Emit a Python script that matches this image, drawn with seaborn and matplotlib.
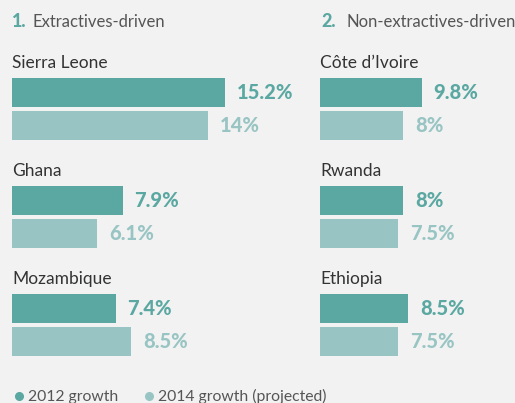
import matplotlib
matplotlib.use("Agg")
import matplotlib.pyplot as plt
from matplotlib.lines import Line2D
import seaborn as sns
import pandas as pd

# data
countries_left = ["Sierra Leone", "Ghana", "Mozambique"]
growth_2012_left = [15.2, 7.9, 7.4]
growth_2014_left = [14, 6.1, 8.5]

countries_right = ["Côte d’Ivoire", "Rwanda", "Ethiopia"]
growth_2012_right = [9.8, 8, 8.5]
growth_2014_right = [8, 7.5, 7.5]

years = ["2012 growth", "2014 growth (projected)"]
titles = ["Extractives-driven", "Non-extractives-driven"]

BG = "#f2f2f2"
DARK = "#5ba8a2"
LIGHT = "#98c5c3"
TXT = "#333333"

sns.set_theme(style="white")
plt.rcParams["font.family"] = ["Lato", "DejaVu Sans"]

W, H = 515, 403
fig = plt.figure(figsize=(W / 100, H / 100), dpi=100, facecolor=BG)


def make_df(countries, g12, g14):
    return pd.DataFrame({
        "country": countries * 2,
        "value": g12 + g14,
        "year": [years[0]] * len(countries) + [years[1]] * len(countries),
    })


def panel(ax, df, countries, xmax):
    sns.barplot(data=df, y="country", x="value", hue="year", hue_order=years,
                order=countries, orient="h", width=0.61, gap=0.115,
                palette=[DARK, LIGHT], linewidth=0, saturation=1,
                legend=False, ax=ax)
    ax.set_facecolor(BG)
    ax.set_xlim(0, xmax)
    ax.set_ylim(2.5, -0.75)
    ax.axis("off")
    for cont, col in zip(ax.containers, [DARK, LIGHT]):
        ax.bar_label(cont, labels=[f"{b.get_width():g}%" for b in cont],
                     padding=8.5, color=col, fontsize=14.5, fontweight="black")
    for i, c in enumerate(countries):
        ax.text(0, i - 0.38, c, color=TXT, fontsize=12.5, va="baseline", ha="left")


# axes placed in pixels
top, bottom = 28, 379
ax1 = fig.add_axes([12 / W, (H - bottom) / H, 243 / W, (bottom - top) / H])
ax2 = fig.add_axes([320 / W, (H - bottom) / H, 195 / W, (bottom - top) / H])

panel(ax1, make_df(countries_left, growth_2012_left, growth_2014_left), countries_left, 243 / 14.0)
panel(ax2, make_df(countries_right, growth_2012_right, growth_2014_right), countries_right, 195 / 10.4)

# section titles
for (xn, xt), num, t in zip([(12, 33), (321, 346)], ["1.", "2."], titles):
    fig.text(xn / W, 1 - 27 / H, num, color=DARK, fontsize=13, fontweight="black", va="baseline")
    fig.text(xt / W, 1 - 27 / H, t, color="#555555", fontsize=12, va="baseline")

# legend
for xm, col, lab in zip([19, 149], [DARK, LIGHT], years):
    fig.add_artist(Line2D([xm / W], [1 - 396 / H], marker="o", markersize=5.5,
                          color=col, linestyle="none", transform=fig.transFigure))
    fig.text((xm + 9) / W, 1 - 401 / H, lab, color="#555555", fontsize=11.3, va="baseline")

fig.savefig("out.png", dpi=100, facecolor=BG)
